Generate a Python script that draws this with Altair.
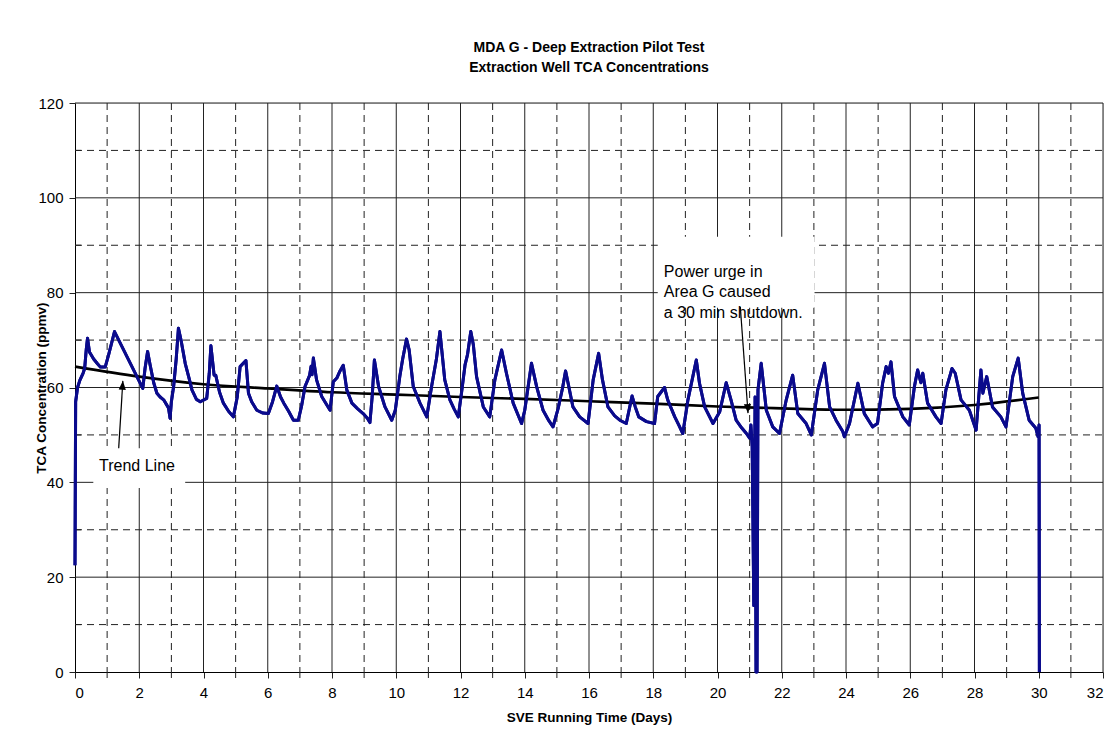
import altair as alt
import pandas as pd

# ---- data ----
days = [0.00, 0.02, 0.08, 0.15, 0.25, 0.30, 0.35, 0.39, 0.45, 0.58, 0.70, 0.79, 0.94, 1.05, 1.23,
        2.11, 2.18, 2.26, 2.34, 2.45, 2.55, 2.65, 2.76, 2.91, 2.96, 3.00, 3.07, 3.15, 3.22, 3.30,
        3.43, 3.55, 3.64, 3.78, 3.90, 4.10, 4.18, 4.23, 4.33, 4.38, 4.50, 4.62, 4.78, 4.93, 5.05,
        5.14, 5.32, 5.40, 5.50, 5.66, 5.85, 6.02, 6.15, 6.28, 6.40, 6.50, 6.65, 6.80, 6.95, 7.05,
        7.16, 7.30, 7.35, 7.38, 7.42, 7.52, 7.68, 7.84, 7.94, 8.04, 8.15, 8.25, 8.35, 8.46, 8.62,
        8.80, 8.97, 9.10, 9.18, 9.25, 9.32, 9.45, 9.65, 9.86, 9.97, 10.11, 10.20, 10.32, 10.40, 10.53,
        10.74, 10.95, 11.10, 11.25, 11.36, 11.51, 11.67, 11.80, 11.93, 12.03, 12.14, 12.22, 12.32, 12.40, 12.50,
        12.71, 12.91, 13.07, 13.28, 13.43, 13.64, 13.90, 14.00, 14.21, 14.37, 14.57, 14.75, 14.88, 15.04, 15.18,
        15.27, 15.35, 15.50, 15.71, 15.97, 16.13, 16.30, 16.42, 16.59, 16.80, 16.96, 17.16, 17.34, 17.44, 17.55,
        17.79, 18.04, 18.14, 18.35, 18.45, 18.67, 18.80, 18.92, 19.08, 19.34, 19.44, 19.60, 19.86, 20.07, 20.27,
        20.42, 20.58, 20.75, 20.90, 21.00, 21.04, 21.08, 21.13, 21.17, 21.20, 21.23, 21.26, 21.36, 21.52, 21.72,
        21.93, 22.14, 22.34, 22.50, 22.76, 22.92, 23.12, 23.33, 23.49, 23.69, 23.90, 23.95, 24.11, 24.37, 24.57,
        24.83, 24.98, 25.14, 25.25, 25.32, 25.40, 25.51, 25.77, 25.97, 26.13, 26.23, 26.33, 26.39, 26.54, 26.80,
        26.96, 27.11, 27.30, 27.40, 27.58, 27.84, 28.05, 28.20, 28.26, 28.38, 28.56, 28.82, 28.98, 29.19, 29.36,
        29.50, 29.70, 29.91, 29.98, 30.01, 30.02]
tca = [22.5, 57.0, 60.0, 61.5, 63.0, 64.0, 68.0, 70.4, 67.5, 66.0, 65.0, 64.3, 64.3, 67.0, 71.8,
       59.8, 64.0, 67.6, 64.7, 61.0, 58.8, 58.0, 57.4, 55.7, 53.5, 57.0, 60.2, 66.0, 72.5, 70.0,
       65.1, 62.0, 59.5, 57.5, 57.0, 57.7, 63.0, 68.8, 62.6, 62.6, 59.0, 56.7, 55.0, 53.8, 58.0,
       64.4, 65.7, 58.8, 57.0, 55.2, 54.6, 54.5, 57.0, 60.3, 58.0, 56.7, 55.0, 53.1, 53.1, 56.0,
       60.2, 62.5, 64.5, 62.7, 66.2, 61.6, 58.1, 56.3, 55.2, 61.2, 62.0, 63.5, 64.7, 59.5, 56.7,
       55.5, 54.5, 53.5, 52.6, 58.0, 65.8, 60.2, 55.9, 53.1, 55.2, 62.3, 66.0, 70.2, 68.0, 60.2,
       56.7, 53.8, 60.2, 66.0, 71.8, 61.6, 57.4, 55.5, 53.8, 58.8, 64.7, 67.0, 71.8, 69.0, 62.3,
       55.9, 53.8, 61.6, 67.9, 63.0, 56.7, 52.4, 55.2, 65.1, 60.2, 55.2, 53.0, 51.7, 55.6, 60.0,
       63.5, 60.9, 55.9, 53.8, 52.4, 61.6, 67.2, 61.6, 55.9, 54.0, 53.1, 52.4, 58.2, 55.9, 53.8,
       52.8, 52.4, 58.1, 60.0, 57.4, 53.8, 52.0, 50.3, 57.4, 65.8, 60.9, 55.9, 52.4, 54.9, 61.0,
       57.4, 53.1, 51.5, 50.3, 49.3, 52.1, 47.5, 14.0, 58.0, 0.0, 0.0, 59.5, 65.1, 55.2, 51.7,
       50.3, 57.4, 62.6, 54.5, 52.4, 50.0, 59.5, 65.1, 55.9, 53.1, 50.7, 49.6, 52.4, 60.9, 54.5,
       51.7, 52.4, 60.9, 64.4, 63.0, 65.4, 58.1, 53.8, 52.1, 60.2, 63.7, 61.0, 63.0, 56.7, 53.8,
       52.4, 59.5, 64.0, 63.0, 57.4, 55.2, 51.0, 63.7, 58.8, 62.3, 55.9, 53.8, 51.7, 62.3, 66.2,
       58.8, 53.1, 51.4, 49.6, 52.1, 0.0]

trend_days = [0, 2, 4, 6, 8, 10, 12, 14, 16, 18, 20, 22, 24, 26, 28, 30]
trend_tca = [64.4, 62.3, 60.7, 59.8, 59.0, 58.5, 58.0, 57.6, 57.1, 56.6, 56.0, 55.6, 55.3, 55.5, 56.3, 57.9]

x_labels = list(range(0, 33, 2))
x_grid_solid = list(range(2, 33, 2))
x_grid_dash = list(range(1, 32, 2))
y_labels = list(range(0, 121, 20))
y_grid_solid = list(range(20, 121, 20))
y_grid_dash = list(range(10, 111, 20))

title_lines = ["MDA G - Deep Extraction Pilot Test", "Extraction Well TCA Concentrations"]
x_title = "SVE Running Time (Days)"
y_title = "TCA Concentration (ppmv)"
note_trend = "Trend Line"
note_power = ["Power urge in", "Area G caused", "a 30 min shutdown."]

FONT = "Liberation Sans"
W, H = 1028, 569
GRID = "#222222"
DASH = [7, 5]

series = pd.DataFrame({"days": days, "tca": tca, "idx": list(range(len(days)))})
trend = pd.DataFrame({"days": trend_days, "tca": trend_tca})

xs = alt.Scale(domain=[0, 32], nice=False, zero=False)
ys = alt.Scale(domain=[0, 120], nice=False)

x_axis = alt.Axis(
    title=x_title, values=x_labels, grid=False,
    tickColor=GRID, tickSize=6, domainColor="#000000",
    labelFont=FONT, labelFontSize=15, labelColor="#000000", labelPadding=7,
    titleFont=FONT, titleFontSize=13.5, titleFontWeight="bold", titleColor="#000000",
    titlePadding=10,
)
y_axis = alt.Axis(
    title=y_title, values=y_labels, grid=False,
    tickColor=GRID, tickSize=6, domainColor="#000000",
    labelFont=FONT, labelFontSize=15, labelColor="#000000", labelPadding=6,
    titleFont=FONT, titleFontSize=13.5, titleFontWeight="bold", titleColor="#000000",
    titleX=-27,
)

def vgrid(vals, dash):
    kw = {"strokeDash": dash} if dash else {}
    return alt.Chart(pd.DataFrame({"days": vals})).mark_rule(color=GRID, strokeWidth=1, **kw).encode(
        x=alt.X("days:Q", scale=xs), y=alt.value(0), y2=alt.value(H))

def hgrid(vals, dash):
    kw = {"strokeDash": dash} if dash else {}
    return alt.Chart(pd.DataFrame({"tca": vals})).mark_rule(color=GRID, strokeWidth=1, **kw).encode(
        y=alt.Y("tca:Q", scale=ys), x=alt.value(0), x2=alt.value(W))

grid_layers = [vgrid(x_grid_solid, None), vgrid(x_grid_dash, DASH),
               hgrid(y_grid_solid, None), hgrid(y_grid_dash, DASH)]

# minor ticks: odd days outward below the x axis, odd tens inward on the y axis
x_minor = alt.Chart(pd.DataFrame({"days": x_grid_dash})).mark_rule(color=GRID).encode(
    x=alt.X("days:Q", scale=xs), y=alt.value(H), y2=alt.value(H + 6))
y_minor = alt.Chart(pd.DataFrame({"tca": y_grid_dash})).mark_rule(color=GRID).encode(
    y=alt.Y("tca:Q", scale=ys), x=alt.value(0), x2=alt.value(6))

boxes = alt.Chart(pd.DataFrame({
    "days": [0.57, 18.14], "x1": [3.43, 23.02], "tca": [38.8, 76.8], "y1": [47.2, 91.8]
})).mark_rect(color="white").encode(
    x=alt.X("days:Q", scale=xs), x2="x1:Q",
    y=alt.Y("tca:Q", scale=ys), y2="y1:Q",
)

line = alt.Chart(series).mark_line(color="#0a0a8c", strokeWidth=3, strokeJoin="round").encode(
    x=alt.X("days:Q", scale=xs, axis=x_axis),
    y=alt.Y("tca:Q", scale=ys, axis=y_axis),
    order="idx:Q",
)

trend_line = alt.Chart(trend).mark_line(color="#000000", strokeWidth=2.6, interpolate="monotone").encode(
    x=alt.X("days:Q", scale=xs),
    y=alt.Y("tca:Q", scale=ys),
)

arrows = alt.Chart(pd.DataFrame({
    "days": [1.36, 20.71], "tca": [47.2, 77.0], "x1": [1.49, 20.95], "y1": [61.4, 54.6]
})).mark_rule(color="#000000", strokeWidth=1.2).encode(
    x=alt.X("days:Q", scale=xs), x2="x1:Q",
    y=alt.Y("tca:Q", scale=ys), y2="y1:Q",
)

heads = alt.Chart(pd.DataFrame({
    "days": [1.49, 20.95], "tca": [61.4, 54.6], "ang": [3.8, 176.1]
})).mark_point(shape="M0,0 L-0.4,1 L0.4,1 Z", filled=True, color="#000000", size=324, opacity=1).encode(
    x=alt.X("days:Q", scale=xs),
    y=alt.Y("tca:Q", scale=ys),
    angle=alt.Angle("ang:Q", scale=None),
)

txt_trend = alt.Chart(pd.DataFrame({"days": [1.93], "tca": [43.4], "t": [note_trend]})).mark_text(
    font=FONT, fontSize=16, color="#000000", align="center", baseline="middle"
).encode(
    x=alt.X("days:Q", scale=xs), y=alt.Y("tca:Q", scale=ys), text="t:N"
)

txt_power = alt.Chart(pd.DataFrame({"days": [18.33], "tca": [84.4]})).mark_text(
    font=FONT, fontSize=16, color="#000000", align="left", baseline="middle", lineHeight=20.5
).encode(
    x=alt.X("days:Q", scale=xs), y=alt.Y("tca:Q", scale=ys),
    text=alt.value(note_power),
)

chart = alt.layer(
    line, *grid_layers, x_minor, y_minor, boxes, trend_line, line, arrows, heads, txt_trend, txt_power
).properties(
    width=W, height=H,
    title=alt.TitleParams(title_lines, font=FONT, fontSize=14, fontWeight="bold", color="#000000",
                          anchor="middle", offset=21, lineHeight=20),
    autosize=alt.AutoSizeParams(type="none"),
    padding={"left": 67, "top": 95, "right": 8, "bottom": 60},
).configure_view(stroke=None).configure(background="white")

chart.save("out.html", embed_options={"renderer": "svg", "actions": False})
